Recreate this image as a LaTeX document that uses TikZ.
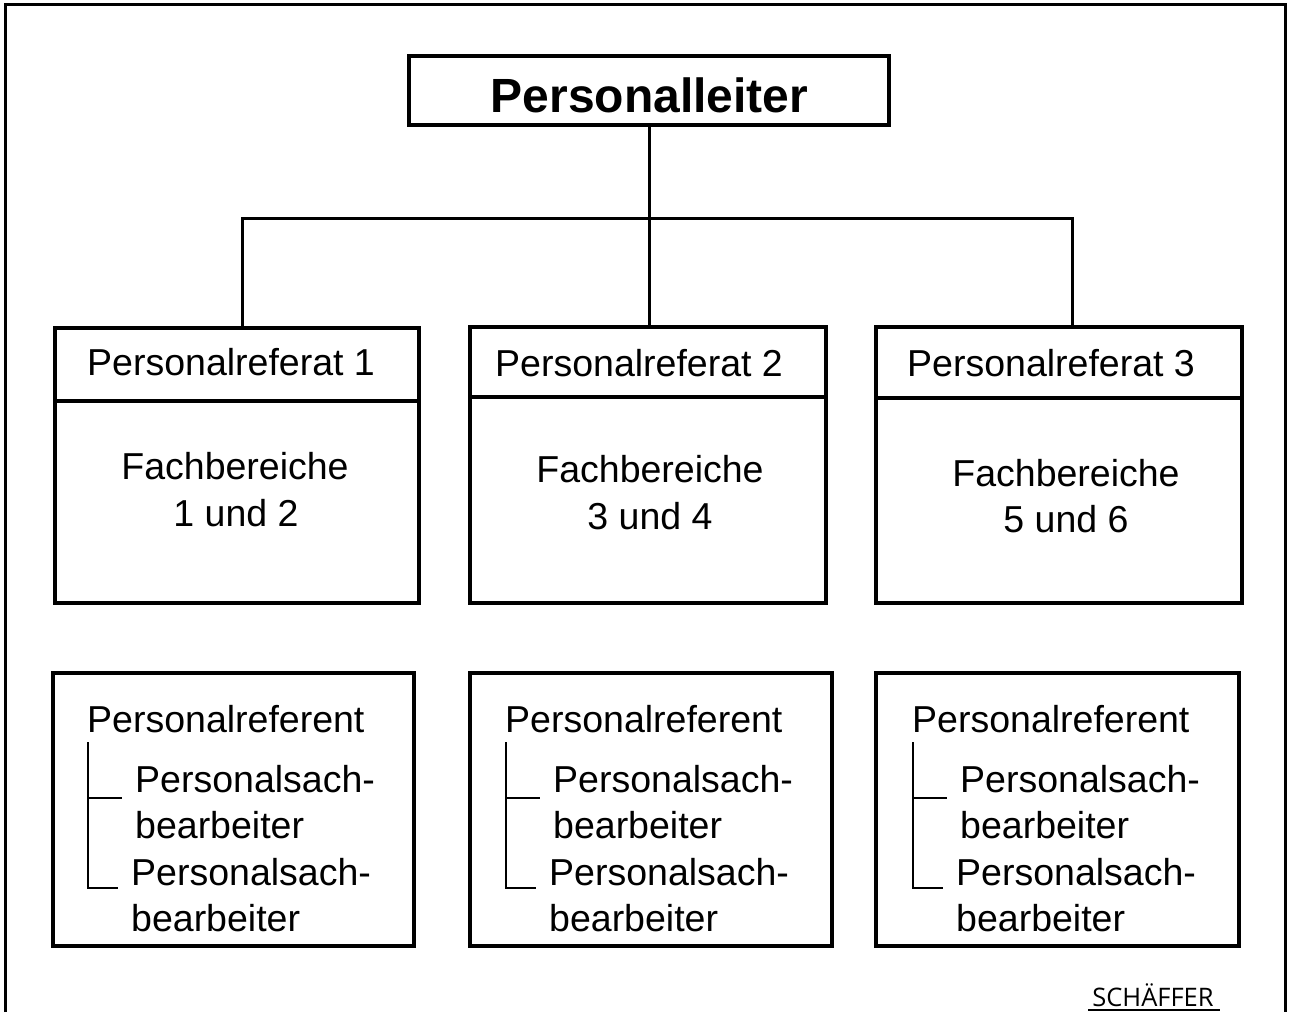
\documentclass[tikz,border=0pt]{standalone}
\usepackage{fontspec}
\setmainfont{Liberation Sans}
\newfontfamily\logofont{Open Sans}
\begin{document}
\begin{tikzpicture}[x=1pt,y=-1pt,
  box/.style={draw,line width=3.5pt,rectangle,inner sep=0pt},
  conn/.style={line width=3pt},
  txt/.style={inner sep=0pt,font=\fontsize{37.5}{45}\selectfont},
  bracket/.style={line width=2pt}]
\useasboundingbox (0,0) rectangle (1289,1012);
% outer frame, open at the bottom
\draw[line width=3pt] (5,1012) -- (5,4) -- (1285,4) -- (1285,1012);

% head of department
\node[box,minimum width=480pt,minimum height=69pt] (pl) at (649,90.5) {};
\node[inner sep=0pt,anchor=base,font=\fontsize{48}{56}\selectfont\bfseries] (plt) at (649.5,112) {Personalleiter};

% department boxes
\node[box,minimum width=364pt,minimum height=275pt] (pr1) at (237,465.5) {};
\node[box,minimum width=356pt,minimum height=276pt] (pr2) at (648,465) {};
\node[box,minimum width=366pt,minimum height=276pt] (pr3) at (1059,465) {};
\draw[line width=3.5pt] (pr1.west |- 0,401) -- (pr1.east |- 0,401);
\draw[line width=3.5pt] (pr2.west |- 0,397) -- (pr2.east |- 0,397);
\draw[line width=3.5pt] (pr3.west |- 0,398) -- (pr3.east |- 0,398);

\node[txt,anchor=base west] (t1) at (87,375) {Personalreferat 1};
\node[txt,anchor=base west] (t2) at (495,376) {Personalreferat 2};
\node[txt,anchor=base west] (t3) at (907,376) {Personalreferat 3};

\node[txt,anchor=base] (f1a) at (235,479) {Fachbereiche};
\node[txt,anchor=base] (f1b) at (236,526) {1 und 2};
\node[txt,anchor=base] (f2a) at (650,482) {Fachbereiche};
\node[txt,anchor=base] (f2b) at (650,529) {3 und 4};
\node[txt,anchor=base] (f3a) at (1066,486) {Fachbereiche};
\node[txt,anchor=base] (f3b) at (1066,532) {5 und 6};

% connectors
\coordinate (jL) at (242,218);
\coordinate (jR) at (1072,218);
\draw[conn] (pl.south) -- (pl.south |- pr2.north);
\draw[conn] (jL |- pr1.north) -- (jL) -- (jR) -- (jR |- pr3.north);

% staff boxes
\node[box,minimum width=361pt,minimum height=273pt] (s1) at (233.5,809.5) {};
\node[box,minimum width=362pt,minimum height=273pt] (s2) at (651,809.5) {};
\node[box,minimum width=363pt,minimum height=273pt] (s3) at (1057.5,809.5) {};

\foreach \n/\x in {1/0,2/418,3/825}{
  \node[txt,anchor=base west] (r\n) at (87+\x,732) {Personalreferent};
  \node[txt,anchor=base west] (a\n) at (135+\x,792) {Personalsach-};
  \node[txt,anchor=base west] (b\n) at (135+\x,838) {bearbeiter};
  \node[txt,anchor=base west] (c\n) at (131+\x,885) {Personalsach-};
  \node[txt,anchor=base west] (d\n) at (131+\x,931) {bearbeiter};
  \draw[bracket] (88+\x,742) -- (88+\x,888) -- (118+\x,888);
  \draw[bracket] (88+\x,798) -- (122+\x,798);
}

% publisher mark
\node[inner sep=0pt,anchor=base,font=\logofont\fontsize{25.5}{28}\selectfont] (logo) at (1153,1006) {SCHÄFFER};
\draw[line width=2pt] (1088,1010) -- (1220,1010);
\end{tikzpicture}
\end{document}
